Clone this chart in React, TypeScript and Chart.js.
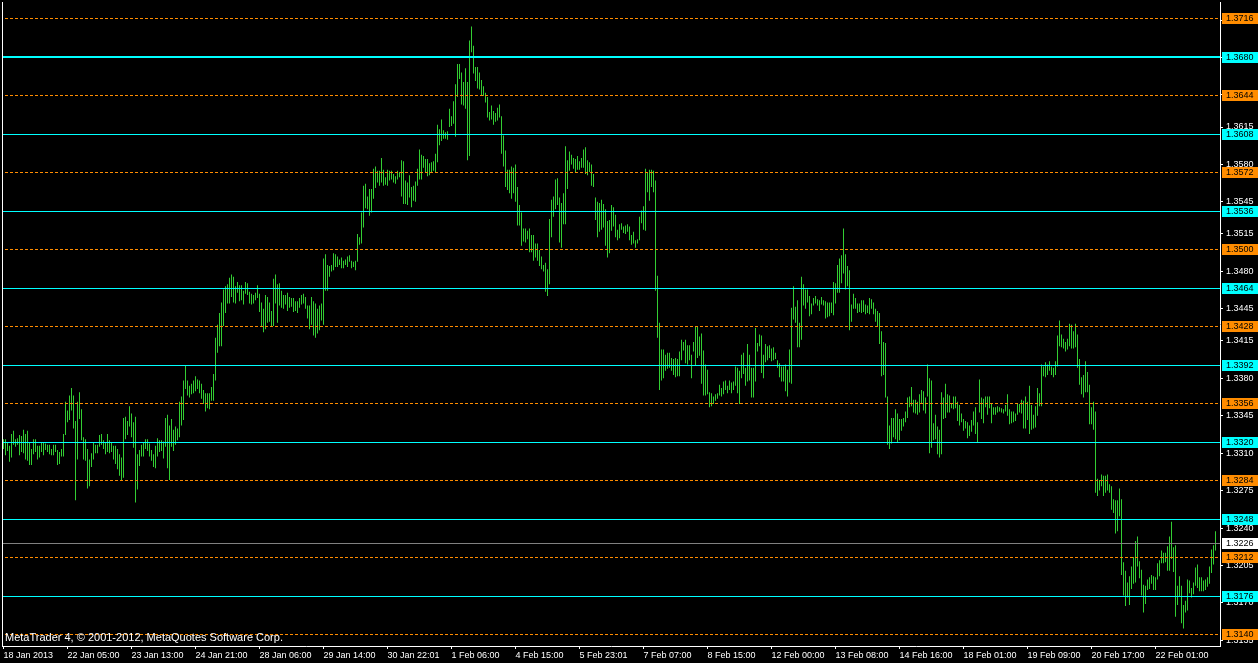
import React, { useEffect, useRef } from "react";
import { Chart, registerables } from "chart.js";

Chart.register(...registerables);

// Prices are kept as pips above BASE_PRICE (1 pip = 0.0001)
const BASE_PRICE = 1.31;

const HIGH_PIPS = [
  223,223,220,217,228,231,223,224,227,226,
  232,228,231,220,214,223,223,217,217,220,
  220,219,218,218,214,218,218,213,211,214,
  228,258,250,264,271,264,240,258,267,251,
  225,223,214,204,210,220,218,218,227,228,
  222,220,228,222,220,217,217,214,209,206,
  243,244,240,254,247,239,244,209,213,218,
  220,223,223,219,213,209,217,224,222,222,
  221,243,246,236,242,232,235,233,258,263,
  278,292,278,273,275,278,282,279,278,275,
  269,266,266,266,272,284,318,330,341,351,
  363,366,368,374,377,375,366,370,367,367,
  362,370,369,361,359,358,360,367,359,351,
  345,358,356,351,343,373,377,368,369,362,
  358,358,360,356,355,355,352,352,355,358,
  359,356,348,348,356,352,350,345,348,350,
  392,396,386,385,386,397,396,394,391,393,
  390,391,394,395,390,389,390,415,412,435,
  460,462,450,457,457,476,478,474,474,486,
  475,468,475,474,474,471,469,474,473,484,
  483,465,463,470,459,460,464,476,494,489,
  488,485,485,481,482,483,490,517,513,522,
  512,510,511,532,525,539,555,574,574,566,
  557,570,557,596,609,591,571,571,566,559,
  553,547,543,529,535,530,528,533,536,525,
  507,493,475,475,478,477,480,459,442,435,
  420,420,418,420,414,414,406,406,400,394,
  386,388,382,429,447,450,466,467,449,444,
  453,497,484,492,489,486,485,488,483,486,
  494,496,484,482,480,471,449,445,444,447,
  443,438,427,428,442,440,433,419,424,425,
  422,423,424,422,414,417,409,410,431,437,
  441,476,472,475,475,474,465,376,332,307,
  307,302,304,304,299,298,299,298,305,316,
  314,316,311,311,302,314,328,328,319,322,
  306,293,288,267,266,263,265,266,274,271,
  277,278,273,278,276,277,291,290,287,302,
  304,290,312,302,290,290,327,313,321,320,
  302,312,310,311,308,309,304,297,294,291,
  291,293,288,307,346,366,347,353,332,375,
  368,363,363,357,350,355,357,354,353,356,
  353,352,351,351,351,370,369,386,392,395,
  420,396,385,381,349,359,355,350,350,353,
  353,349,348,355,354,351,345,343,341,324,
  314,313,263,236,243,243,251,247,242,242,
  243,249,262,263,272,260,260,258,265,269,
  268,262,293,280,278,238,246,235,232,267,
  262,275,265,264,256,263,263,258,255,247,
  242,240,239,236,241,249,253,239,279,262,
  261,263,263,263,257,253,253,254,253,252,
  251,255,265,251,249,249,247,256,256,260,
  259,263,258,273,255,246,254,271,266,293,
  291,295,293,296,291,290,296,320,334,321,
  317,314,317,331,330,324,331,321,298,281,
  283,296,286,274,253,258,249,186,185,190,
  189,189,190,181,179,167,166,166,177,167,
  108,100,89,95,104,113,128,132,109,101,
  87,86,92,94,96,95,94,107,110,119,
  117,117,123,132,146,122,124,86,95,86,
  68,72,92,91,84,89,103,106,94,94,
  91,92,94,104,120,124,137,
];

const LOW_PIPS = [
  214,208,212,202,206,218,216,218,208,211,
  210,204,203,199,199,209,211,204,206,211,
  208,213,211,209,208,208,211,199,200,207,
  207,227,239,241,250,233,166,204,242,222,
  204,203,177,179,197,204,210,210,216,218,
  214,209,211,210,211,204,200,195,189,184,
  187,223,227,235,225,215,164,176,198,207,
  207,214,212,207,203,197,196,207,211,212,
  205,216,196,185,216,212,218,222,225,236,
  241,270,264,262,265,266,268,270,266,261,
  256,249,252,251,259,259,278,304,310,310,
  329,341,350,350,356,351,350,360,352,353,
  349,359,358,350,349,350,353,355,342,329,
  323,326,332,333,328,329,350,332,348,346,
  345,349,343,346,347,342,343,341,346,349,
  350,345,336,326,330,320,318,322,325,334,
  330,362,362,375,380,381,384,384,386,383,
  383,386,384,389,383,384,381,389,405,406,
  421,439,438,432,435,448,458,463,460,463,
  460,461,460,465,466,463,462,466,468,450,
  443,443,442,449,440,446,445,460,466,466,
  477,473,469,470,473,474,473,482,498,502,
  504,504,503,515,516,518,506,543,560,536,
  535,532,484,488,585,565,558,551,550,544,
  544,538,524,521,522,517,520,521,524,490,
  478,459,456,453,448,453,445,423,423,404,
  408,407,410,398,398,390,393,390,385,382,
  380,361,357,368,412,431,438,442,407,402,
  424,424,457,474,480,476,473,475,475,477,
  477,471,470,473,460,459,428,412,417,419,
  421,404,393,397,418,422,412,409,411,419,
  416,415,417,409,405,406,402,406,409,425,
  419,418,454,446,459,454,362,318,269,278,
  280,287,289,290,287,283,281,282,282,297,
  306,294,293,297,280,305,292,299,301,275,
  264,264,265,253,254,256,259,261,264,263,
  265,269,266,269,266,269,273,266,256,280,
  284,273,277,278,262,262,277,305,310,285,
  280,295,297,299,296,297,298,290,281,277,
  277,268,263,276,275,335,332,309,309,316,
  348,345,351,338,340,348,350,348,343,349,
  348,336,337,338,341,339,350,360,360,369,
  378,363,366,325,333,345,345,341,342,341,
  342,340,341,340,345,340,333,329,312,282,
  283,262,218,214,219,225,223,220,222,231,
  235,239,243,253,254,248,247,246,248,256,
  250,247,263,210,215,222,223,209,206,209,
  242,243,248,248,252,251,252,240,236,239,
  231,233,224,226,230,236,228,220,248,242,
  238,253,246,252,238,246,246,248,249,248,
  247,249,245,237,238,239,240,246,248,247,
  233,233,241,228,232,233,234,245,254,254,
  282,281,283,287,283,281,283,291,310,309,
  308,305,307,310,308,308,309,290,274,265,
  262,267,267,237,237,232,173,170,175,179,
  170,173,175,173,157,154,135,137,151,96,
  77,67,75,68,83,88,89,104,93,77,
  61,69,82,83,88,82,82,92,95,107,
  107,108,100,100,111,99,57,68,76,51,
  46,61,63,79,75,78,86,84,81,81,
  81,82,85,88,98,106,119,
];

const X_LABELS = [
  "18 Jan 2013", "22 Jan 05:00", "23 Jan 13:00", "24 Jan 21:00", "28 Jan 06:00",
  "29 Jan 14:00", "30 Jan 22:01", "1 Feb 06:00", "4 Feb 15:00", "5 Feb 23:01",
  "7 Feb 07:00", "8 Feb 15:00", "12 Feb 00:00", "13 Feb 08:00", "14 Feb 16:00",
  "18 Feb 01:00", "19 Feb 09:00", "20 Feb 17:00", "22 Feb 01:00",
];
const X_LABEL_STEP = 32; // bars between time labels

const Y_TICKS = [
  1.3715, 1.368, 1.3645, 1.3615, 1.358, 1.3545, 1.3515, 1.348, 1.3445,
  1.3415, 1.338, 1.3345, 1.331, 1.3275, 1.324, 1.3205, 1.317, 1.3135,
];

const CYAN_LEVELS = [1.368, 1.3608, 1.3536, 1.3464, 1.3392, 1.332, 1.3248, 1.3176];
const ORANGE_LEVELS = [1.3716, 1.3644, 1.3572, 1.35, 1.3428, 1.3356, 1.3284, 1.3212, 1.314];
const BID_PRICE = 1.3226;

const Y_MIN = 1.3129712;
const Y_MAX = 1.3731896;
const X_MIN = -0.75;
const X_MAX = 608.25;

const BAR_COLOR = "#32cd32";
const CYAN = "#00ffff";
const ORANGE = "#ff8c00";
const FONT = "Liberation Sans";

const levelsPlugin = {
  id: "mtLevels",
  afterDatasetsDraw(chart: any) {
    const { ctx, chartArea: a, scales } = chart;
    const y = scales.y;
    const W = chart.width;
    ctx.save();
    // left frame line
    ctx.fillStyle = "#ffffff";
    ctx.fillRect(a.left, a.top, 1, a.bottom - a.top);

    // cyan solid levels
    CYAN_LEVELS.forEach((lv, k) => {
      const py = Math.floor(y.getPixelForValue(lv));
      ctx.fillStyle = CYAN;
      if (k === 0) ctx.fillRect(a.left + 1, py - 1, a.right - a.left - 1, 2);
      else ctx.fillRect(a.left + 1, py, a.right - a.left - 1, 1);
    });
    // orange dashed levels
    ctx.strokeStyle = ORANGE;
    ctx.lineWidth = 1;
    ctx.setLineDash([3, 2]);
    ORANGE_LEVELS.forEach((lv) => {
      const py = Math.floor(y.getPixelForValue(lv)) + 0.5;
      ctx.beginPath();
      ctx.moveTo(a.left + 3, py);
      ctx.lineTo(a.right, py);
      ctx.stroke();
    });
    ctx.setLineDash([]);
    // bid line
    {
      const py = Math.floor(y.getPixelForValue(BID_PRICE));
      ctx.fillStyle = "#808080";
      ctx.fillRect(a.left + 1, py, a.right - a.left - 1, 1);
    }

    // price boxes on the right axis
    const box = (lv: number, bg: string, fg: string) => {
      const py = y.getPixelForValue(lv);
      const top = Math.round(py - 5.5);
      ctx.fillStyle = bg;
      ctx.fillRect(a.right + 2, top, W - (a.right + 2), 11);
      ctx.fillStyle = fg;
      ctx.font = `9px "${FONT}"`;
      ctx.textAlign = "left";
      ctx.textBaseline = "middle";
      ctx.fillText(lv.toFixed(4), a.right + 6, top + 6);
    };
    CYAN_LEVELS.forEach((lv) => box(lv, CYAN, "#000000"));
    ORANGE_LEVELS.forEach((lv) => box(lv, ORANGE, "#000000"));
    box(BID_PRICE, "#ffffff", "#000000");

    // watermark
    ctx.fillStyle = "#ffffff";
    ctx.font = `11px "${FONT}"`;
    ctx.textAlign = "left";
    ctx.textBaseline = "alphabetic";
    ctx.fillText("MetaTrader 4, \u00a9 2001-2012, MetaQuotes Software Corp.", a.left + 3, a.bottom - 5);
    ctx.restore();
  },
};

export default function App() {
  const ref = useRef<HTMLCanvasElement | null>(null);

  useEffect(() => {
    const canvas = ref.current;
    if (!canvas) return;
    const n = Math.min(HIGH_PIPS.length, LOW_PIPS.length);
    const data = [];
    for (let i = 0; i < n; i++) {
      data.push({
        x: i,
        y: [BASE_PRICE + LOW_PIPS[i] / 10000, BASE_PRICE + HIGH_PIPS[i] / 10000],
      });
    }
    const tickFont = { family: FONT, size: 9 };
    const chart = new Chart(canvas, {
      type: "bar",
      data: {
        datasets: [
          {
            data: data as any,
            backgroundColor: BAR_COLOR,
            borderWidth: 0,
            barThickness: 1,
            inflateAmount: 0,
            grouped: false,
          } as any,
        ],
      },
      options: {
        animation: false,
        responsive: false,
        devicePixelRatio: 1,
        events: [],
        layout: { padding: { left: 2, top: 2, right: 0, bottom: 0 } },
        plugins: { legend: { display: false }, tooltip: { enabled: false } },
        scales: {
          x: {
            type: "linear",
            min: X_MIN,
            max: X_MAX,
            offset: false,
            afterBuildTicks: (s: any) => {
              s.ticks = X_LABELS.map((_, k) => ({ value: k * X_LABEL_STEP }));
            },
            afterFit: (s: any) => {
              s.height = 17;
              s.paddingLeft = 0;
              s.paddingRight = 0;
              s.paddingTop = 0;
              s.paddingBottom = 0;
            },
            ticks: {
              autoSkip: false,
              maxRotation: 0,
              minRotation: 0,
              align: "start",
              color: "#ffffff",
              font: tickFont,
              padding: 1,
              callback: (_v: any, idx: number) => X_LABELS[idx],
            },
            grid: {
              display: true,
              drawOnChartArea: false,
              drawTicks: true,
              tickLength: 3,
              color: "#ffffff",
              offset: false,
            },
            border: { display: true, color: "#ffffff", width: 1 },
          } as any,
          y: {
            type: "linear",
            position: "right",
            min: Y_MIN,
            max: Y_MAX,
            z: 1,
            afterBuildTicks: (s: any) => {
              s.ticks = Y_TICKS.map((v) => ({ value: v }));
            },
            afterFit: (s: any) => {
              s.width = 38;
              s.paddingTop = 0;
              s.paddingBottom = 0;
              s.paddingLeft = 0;
              s.paddingRight = 0;
            },
            ticks: {
              autoSkip: false,
              color: "#ffffff",
              font: tickFont,
              padding: 3,
              callback: (v: any) => Number(v).toFixed(4),
            },
            grid: {
              display: true,
              drawOnChartArea: false,
              drawTicks: true,
              tickLength: 3,
              color: "#ffffff",
            },
            border: { display: true, color: "#ffffff", width: 1 },
          } as any,
        },
      },
      plugins: [levelsPlugin],
    });
    return () => chart.destroy();
  }, []);

  return (
    <div
      style={{
        position: "fixed",
        left: 0,
        top: 0,
        width: 1258,
        height: 663,
        background: "#000000",
      }}
    >
      <canvas ref={ref} width={1258} height={663} style={{ display: "block" }} />
    </div>
  );
}
